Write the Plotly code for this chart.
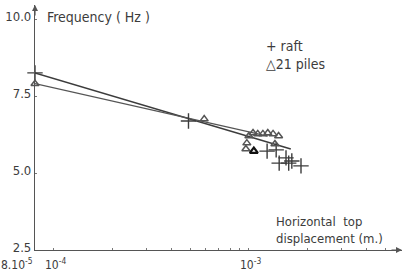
import plotly.graph_objects as go
import math

# ---- data ----
raft_x = [8e-5, 4.9e-4, 1.24e-3, 1.38e-3, 1.43e-3, 1.55e-3, 1.60e-3, 1.66e-3, 1.85e-3]
raft_y = [8.25, 6.69, 5.71, 5.75, 5.32, 5.49, 5.32, 5.39, 5.23]

piles_x = [8e-5, 5.9e-4, 1.0e-3, 1.05e-3, 1.11e-3, 1.18e-3, 1.25e-3, 1.33e-3, 1.42e-3,
           0.976e-3, 0.965e-3, 1.36e-3]
piles_y = [7.9, 6.75, 6.2, 6.3, 6.27, 6.27, 6.3, 6.27, 6.2, 5.97, 5.78, 5.94]

special_x = [1.06e-3]
special_y = [5.71]

raft_fit_x = [8e-5, 1.64e-3]
raft_fit_y = [8.25, 5.78]
piles_fit_x = [8e-5, 1.25e-3]
piles_fit_y = [7.9, 6.2]

y_ticks = [2.5, 5.0, 7.5, 10.0]
y_labels = ["2.5", "5.0", "7.5", "10.0"]
x_label_vals = [8e-5, 1e-4, 1e-3]
x_labels = ["8.10<sup>-5</sup>", "10<sup>-4</sup>", "10<sup>-3</sup>"]
x_minor = [2e-4, 3e-4, 4e-4, 5e-4, 6e-4, 7e-4, 8e-4, 9e-4, 1e-4, 1e-3,
           2e-3, 3e-3, 4e-3, 5e-3]

INK = "#3c3c3c"
FONT = "DejaVu Sans Condensed, DejaVu Sans, sans-serif"

fig = go.Figure()
fig.add_trace(go.Scatter(x=raft_fit_x, y=raft_fit_y, mode="lines",
                         line=dict(color=INK, width=1.4), showlegend=False))
fig.add_trace(go.Scatter(x=piles_fit_x, y=piles_fit_y, mode="lines",
                         line=dict(color="#555555", width=1.2), showlegend=False))
fig.add_trace(go.Scatter(x=raft_x, y=raft_y, mode="markers", cliponaxis=False,
                         marker=dict(symbol="cross-thin", size=11,
                                     line=dict(color=INK, width=1.4)),
                         showlegend=False))
fig.add_trace(go.Scatter(x=piles_x, y=piles_y, mode="markers", cliponaxis=False,
                         marker=dict(symbol="triangle-up-open", size=7, color="#555555",
                                     line=dict(width=1.5)),
                         showlegend=False))
fig.add_trace(go.Scatter(x=special_x, y=special_y, mode="markers", cliponaxis=False,
                         marker=dict(symbol="triangle-up-open", size=7, color="#111111",
                                     line=dict(width=2.2)),
                         showlegend=False))

xr = [math.log10(8e-5), math.log10(8e-5) + 367 / 195]
yr = [2.5, 2.5 + 245 / 30.8]

fig.update_xaxes(type="log", range=xr, showgrid=False, zeroline=False,
                 showline=True, linecolor="#555555", linewidth=1.2,
                 tickvals=x_minor, ticks="inside", ticklen=2, tickcolor="#777777",
                 showticklabels=False)
fig.update_yaxes(range=yr, showgrid=False, zeroline=False,
                 showline=True, linecolor="#555555", linewidth=1.2,
                 tickvals=y_ticks, ticktext=y_labels, ticks="inside", ticklen=2,
                 ticklabelshift=-3,
                 tickcolor="#777777", tickfont=dict(family=FONT, size=13, color=INK))

anns = []
for v, t in zip(x_label_vals, x_labels):
    anns.append(dict(x=math.log10(v), y=0, xref="x", yref="paper", text=t,
                     showarrow=False, yanchor="top", yshift=-4,
                     xanchor="right" if v == 8e-5 else "center",
                     xshift=0 if v == 8e-5 else 2,
                     font=dict(family=FONT, size=12, color=INK)))

def px(xp):
    return (xp - 35) / 367

def py(yp):
    return (250 - yp) / 245

anns += [
    dict(x=px(45), y=py(17), xref="paper", yref="paper", text="Frequency ( Hz )",
         showarrow=False, xanchor="left", yanchor="middle",
         font=dict(family=FONT, size=14, color=INK)),
    dict(x=px(264), y=py(46), xref="paper", yref="paper", text="+ raft",
         showarrow=False, xanchor="left", yanchor="middle",
         font=dict(family=FONT, size=14, color=INK)),
    dict(x=px(264), y=py(64), xref="paper", yref="paper", text="\u25b321 piles",
         showarrow=False, xanchor="left", yanchor="middle",
         font=dict(family=FONT, size=14, color=INK)),
    dict(x=px(274), y=py(230), xref="paper", yref="paper",
         text="Horizontal  top<br>displacement (m.)",
         showarrow=False, xanchor="left", yanchor="middle", align="left",
         font=dict(family=FONT, size=13, color=INK)),
    # axis arrowheads
    dict(x=1, y=0, xref="paper", yref="paper", ax=-12, ay=0, text="",
         showarrow=True, arrowhead=2, arrowsize=1, arrowwidth=1.2, arrowcolor="#555555"),
    dict(x=0, y=1, xref="paper", yref="paper", ax=0, ay=12, text="",
         showarrow=True, arrowhead=2, arrowsize=1, arrowwidth=1.2, arrowcolor="#555555"),
]

fig.update_layout(width=407, height=276, margin=dict(l=35, r=5, t=5, b=26),
                  plot_bgcolor="white", paper_bgcolor="white",
                  annotations=anns, showlegend=False)

fig.write_html("out.html", config={"displayModeBar": False},
               post_script="document.body.style.margin='0';document.body.style.padding='0';")
